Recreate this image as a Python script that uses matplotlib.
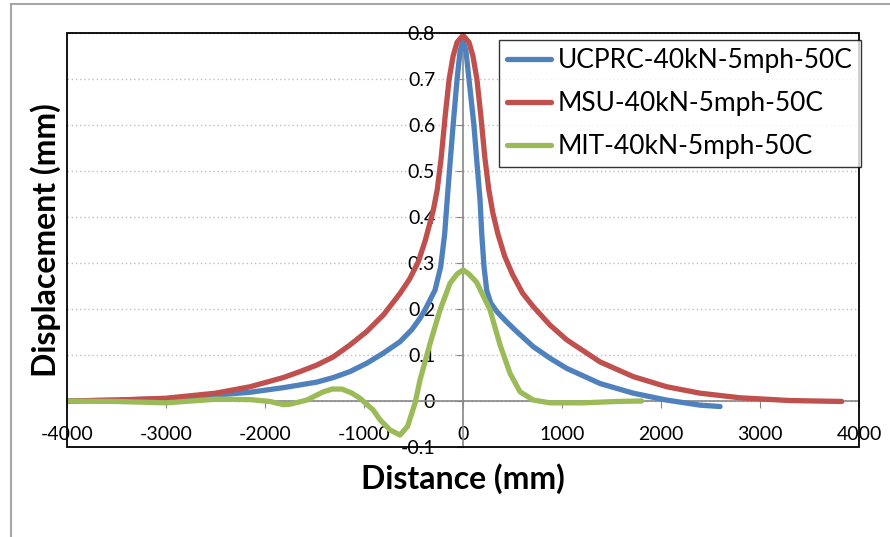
import matplotlib
matplotlib.use("Agg")
import matplotlib.pyplot as plt
from matplotlib.lines import Line2D
from matplotlib.patches import Rectangle

plt.rcParams['font.family'] = ['Lato', 'DejaVu Sans']

# UCPRC-40kN-5mph-50C
ucprc_x = [-4000, -3500, -3000, -2500, -2151, -1983, -1815, -1646, -1478, -1310, -1141,
           -973, -805, -636, -518, -434, -384, -283, -225, -185, -160, -130, -100, -60,
           -30, 0, 30, 60, 110, 140, 172, 189, 212, 239, 280, 340, 374, 450, 542, 710,
           879, 1047, 1384, 1720, 2057, 2394, 2596]
ucprc_y = [0.0, 0.002, 0.005, 0.013, 0.019, 0.024, 0.029, 0.035, 0.041, 0.051, 0.064,
           0.082, 0.104, 0.129, 0.155, 0.18, 0.198, 0.241, 0.292, 0.364, 0.437, 0.52, 0.6, 0.7,
           0.76, 0.785, 0.76, 0.7, 0.6, 0.52, 0.437, 0.364, 0.292, 0.241, 0.213, 0.195, 0.187,
           0.17, 0.151, 0.118, 0.093, 0.071, 0.038, 0.017, 0.002, -0.009, -0.012]

# MSU-40kN-5mph-50C
msu_x = [-4000, -3500, -3000, -2500, -2151, -1983, -1815, -1646, -1478, -1310, -1141,
         -973, -805, -636, -540, -451, -380, -300, -260, -220, -180, -140, -100, -60, 0,
         60, 100, 140, 180, 220, 260, 300, 350, 420, 500, 600, 710, 879, 1047, 1384, 1720,
         2057, 2394, 2798, 3303, 3825]
msu_y = [0.0, 0.002, 0.006, 0.017, 0.031, 0.041, 0.051, 0.064, 0.078, 0.096, 0.122,
         0.151, 0.187, 0.234, 0.265, 0.303, 0.35, 0.415, 0.46, 0.53, 0.62, 0.7, 0.75, 0.78,
         0.795, 0.78, 0.75, 0.7, 0.62, 0.53, 0.46, 0.41, 0.365, 0.315, 0.275, 0.235, 0.205,
         0.165, 0.133, 0.085, 0.053, 0.031, 0.017, 0.007, 0.001, -0.001]

# MIT-40kN-5mph-50C
mit_x = [-4000, -3500, -3000, -2488, -2151, -1949, -1815, -1747, -1579, -1411, -1320,
         -1225, -1130, -1040, -906, -838, -737, -636, -560, -518, -485, -434, -333, -232,
         -131, -60, 0, 60, 138, 273, 374, 475, 576, 710, 879, 1215, 1552, 1805]
mit_y = [0.0, -0.001, -0.004, 0.004, 0.003, -0.001, -0.008, -0.007, 0.002, 0.02, 0.026,
         0.026, 0.018, 0.006, -0.02, -0.041, -0.063, -0.074, -0.055, -0.027, -0.005, 0.046,
         0.125, 0.198, 0.256, 0.276, 0.285, 0.276, 0.258, 0.198, 0.122, 0.06, 0.02, 0.002,
         -0.004, -0.004, -0.001, 0.0]

x_ticks = [-4000, -3000, -2000, -1000, 0, 1000, 2000, 3000, 4000]
y_ticks = [-0.1, 0, 0.1, 0.2, 0.3, 0.4, 0.5, 0.6, 0.7, 0.8]
y_labels = ["-0.1", "0", "0.1", "0.2", "0.3", "0.4", "0.5", "0.6", "0.7", "0.8"]

fig = plt.figure(figsize=(8.9, 5.37), dpi=100, facecolor="white")
ax = fig.add_axes([0.0753, 0.1676, 0.8899, 0.7709])

style = dict(lw=3.8, zorder=3, solid_capstyle="round", solid_joinstyle="round")
ax.plot(ucprc_x, ucprc_y, color="#4F81BD", label="UCPRC-40kN-5mph-50C", **style)
ax.plot(msu_x, msu_y, color="#C0504D", label="MSU-40kN-5mph-50C", **style)
ax.plot(mit_x, mit_y, color="#9BBB59", label="MIT-40kN-5mph-50C", **style)

ax.set_xlim(-4000, 4000)
ax.set_ylim(-0.1, 0.8)
ax.set_xticks(x_ticks)
ax.set_xticklabels([str(v) for v in x_ticks])
ax.set_yticks(y_ticks)
ax.set_yticklabels(y_labels)

# axes cross at zero, like the Excel original
ax.spines["left"].set_position(("data", 0))
ax.spines["bottom"].set_position(("data", 0))
for s in ["left", "bottom"]:
    ax.spines[s].set_color("#878787")
    ax.spines[s].set_linewidth(1.2)
for s in ["top", "right"]:
    ax.spines[s].set_visible(False)
ax.add_patch(Rectangle((0, 0), 1, 1, transform=ax.transAxes, fill=False,
                       edgecolor="black", lw=1.3, zorder=4, clip_on=False))

ax.tick_params(axis="y", direction="out", length=5, color="#878787", pad=15, labelsize=14)
ax.tick_params(axis="x", direction="out", length=5, color="#878787", pad=13, labelsize=14)

ax.yaxis.grid(True, color="#BFBFBF", linestyle=(0, (1, 2)), lw=1)
ax.set_axisbelow(True)

fig.text(0.051, 0.553, "Displacement (mm)", rotation=90, ha="center", va="center",
         fontsize=23, fontweight="bold")
fig.text(0.52, 0.108, "Distance (mm)", ha="center", va="center",
         fontsize=23, fontweight="bold")

leg = ax.legend(loc="upper left", bbox_to_anchor=(0.545, 0.983), fontsize=19,
                frameon=True, fancybox=False, handlelength=1.7, handletextpad=0.25,
                borderpad=0.3, labelspacing=0.68, borderaxespad=0)
leg.get_frame().set_edgecolor("black")
leg.get_frame().set_linewidth(1.0)
leg.set_zorder(5)

# outer chart border (gray)
fig.add_artist(Line2D([0.0124, 1.0], [0.993, 0.993], color="#A6A6A6", lw=1.5))
fig.add_artist(Line2D([0.0124, 0.0124], [0.0, 0.993], color="#A6A6A6", lw=1.5))

fig.savefig("out.png", dpi=100, facecolor="white")
